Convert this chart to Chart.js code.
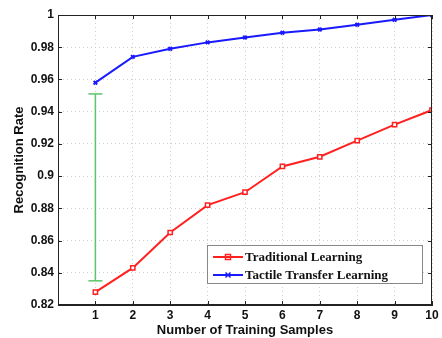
<!DOCTYPE html>
<html>
<head>
<meta charset="utf-8">
<script src="https://cdn.jsdelivr.net/npm/chart.js@4"></script>
<style>
  body { margin: 0; background: #fff; }
</style>
</head>
<body>
<canvas id="grafico" width="442" height="338"></canvas>
<script>
// dados
const amostras = [1, 2, 3, 4, 5, 6, 7, 8, 9, 10]
const tradicional = [0.828, 0.843, 0.865, 0.882, 0.890, 0.906, 0.912, 0.922, 0.932, 0.941]
const transferencia = [0.958, 0.974, 0.979, 0.983, 0.986, 0.989, 0.991, 0.994, 0.997, 1.0]
const barraX = 1
const barraY = [0.951, 0.835]
const ticksY = [0.82, 0.84, 0.86, 0.88, 0.9, 0.92, 0.94, 0.96, 0.98, 1]

const fonteTick = { family: 'Liberation Sans', size: 12, weight: 'bold' }
const fonteTitulo = { family: 'Liberation Sans', size: 13, weight: 'bold' }

// caixa, ticks para dentro e legenda dentro da area
const caixaPlugin = {
  id: 'caixa',
  afterDraw(chart) {
    const { ctx, chartArea: a, scales } = chart
    ctx.save()
    ctx.strokeStyle = '#222'
    ctx.lineWidth = 1
    ctx.strokeRect(a.left + 0.5, a.top + 0.5, a.right - a.left - 1, a.bottom - a.top - 1)
    ctx.beginPath()
    amostras.forEach(v => {
      const x = Math.round(scales.x.getPixelForValue(v)) + 0.5
      ctx.moveTo(x, a.bottom); ctx.lineTo(x, a.bottom - 4)
      ctx.moveTo(x, a.top); ctx.lineTo(x, a.top + 4)
    })
    ticksY.forEach(v => {
      const y = Math.round(scales.y.getPixelForValue(v)) + 0.5
      ctx.moveTo(a.left, y); ctx.lineTo(a.left + 4, y)
      ctx.moveTo(a.right, y); ctx.lineTo(a.right - 4, y)
    })
    ctx.stroke()

    // legenda
    const w = 215, h = 38
    const lx = a.right - 10 - w, ly = a.bottom - 22 - h
    ctx.fillStyle = '#fff'
    ctx.fillRect(lx, ly, w, h)
    ctx.strokeStyle = '#888'
    ctx.strokeRect(lx + 0.5, ly + 0.5, w, h)
    const itens = chart.data.datasets.slice(0, 2)
    itens.forEach((ds, i) => {
      const y = ly + 12 + i * 18
      ctx.strokeStyle = ds.borderColor
      ctx.lineWidth = 2
      ctx.beginPath(); ctx.moveTo(lx + 6, y); ctx.lineTo(lx + 36, y); ctx.stroke()
      ctx.lineWidth = 1.5
      const cx = lx + 21
      if (i == 0) {
        ctx.strokeRect(cx - 2.5, y - 2.5, 5, 5)
      } else {
        ctx.beginPath()
        ctx.moveTo(cx - 2.5, y - 2.5); ctx.lineTo(cx + 2.5, y + 2.5)
        ctx.moveTo(cx + 2.5, y - 2.5); ctx.lineTo(cx - 2.5, y + 2.5)
        ctx.stroke()
      }
      ctx.fillStyle = '#111'
      ctx.font = 'bold 13px "Liberation Serif"'
      ctx.textBaseline = 'middle'
      ctx.fillText(ds.label, lx + 38, y + 1)
    })
    ctx.restore()
  }
}

const grafico = new Chart(document.getElementById('grafico'), {
  type: 'line',
  data: {
    datasets: [{
      label: 'Traditional Learning',
      data: amostras.map((x, i) => ({ x, y: tradicional[i] })),
      borderColor: '#ff2020',
      backgroundColor: '#ffffff',
      borderWidth: 2,
      pointStyle: 'rect',
      pointRadius: 3,
      pointBorderWidth: 1.5,
      tension: 0
    }, {
      label: 'Tactile Transfer Learning',
      data: amostras.map((x, i) => ({ x, y: transferencia[i] })),
      borderColor: '#1a1aff',
      backgroundColor: '#1a1aff',
      borderWidth: 2,
      pointStyle: 'crossRot',
      pointRadius: 2.5,
      pointBorderWidth: 2,
      tension: 0
    }, {
      label: 'erro',
      data: barraY.map(y => ({ x: barraX, y })),
      borderColor: '#5cc46a',
      borderWidth: 1.5,
      pointStyle: 'line',
      pointRadius: 7,
      pointBorderWidth: 1.5,
      pointBorderColor: '#5cc46a',
      tension: 0
    }]
  },
  options: {
    responsive: false,
    animation: false,
    devicePixelRatio: 1,
    layout: { padding: { top: 15, right: 10, left: 0, bottom: 0 } },
    plugins: { legend: { display: false }, tooltip: { enabled: false } },
    scales: {
      x: {
        type: 'linear', min: 0, max: 10,
        afterFit: s => { s.height = 33 },
        ticks: {
          stepSize: 1, color: '#111', font: fonteTick, padding: 3,
          callback: v => v == 0 ? '' : v
        },
        grid: { color: '#cfcfcf', drawTicks: false },
        border: { color: '#222', dash: [1, 3] },
        title: { display: true, text: 'Number of Training Samples', color: '#111', font: fonteTitulo, padding: { top: 0, bottom: 0 } }
      },
      y: {
        type: 'linear', min: 0.82, max: 1,
        afterFit: s => { s.width = 58 },
        afterBuildTicks: s => { s.ticks = ticksY.map(v => ({ value: v })) },
        ticks: { color: '#111', font: fonteTick, padding: 4, callback: v => String(+v.toFixed(2)) },
        grid: { color: '#cfcfcf', drawTicks: false },
        border: { color: '#222', dash: [1, 3] },
        title: { display: true, text: 'Recognition Rate', color: '#111', font: fonteTitulo, padding: { top: 12, bottom: 0 } }
      }
    }
  },
  plugins: [caixaPlugin]
})
</script>
</body>
</html>
